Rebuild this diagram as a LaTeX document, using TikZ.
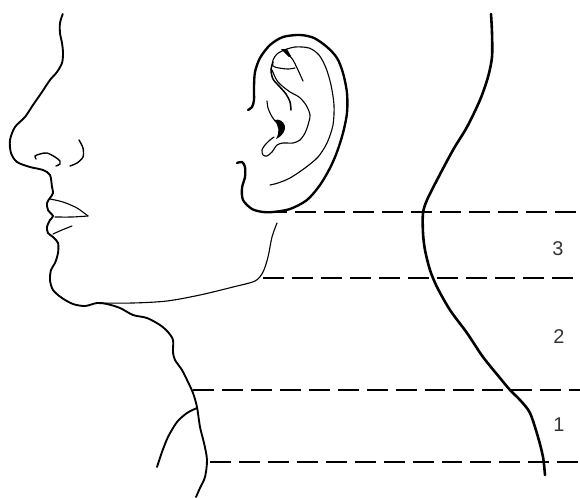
\documentclass[tikz,border=0pt]{standalone}
\usepackage{fontspec}
\setmainfont{Liberation Sans}
\begin{document}
\begin{tikzpicture}[x=0.03cm,y=-0.03cm,
  outline/.style={line width=1.6pt, line cap=round, line join=round},
  helix/.style={line width=2pt, line cap=round, line join=round},
  fine/.style={line width=0.95pt, line cap=round, line join=round},
  spine/.style={line width=2.2pt, line cap=round},
  level/.style={line width=2.2pt, dash pattern=on 17.9pt off 6.8pt},
  zone/.style={font=\fontsize{17}{20}\selectfont, text=black!80}]
\useasboundingbox (0,0) rectangle (580,497);

% profile: forehead, nose, lips, chin and front of the neck
\draw[outline] plot[smooth] coordinates {(62.7,14) (60,23) (60,33) (62,43) (63,53) (62,63) (57,72) (50,80) (42,92) (33,105) (25,117) (15,127) (10,140) (11,153) (17,162) (30,167) (43,170) (50,175) (52,187) (53,193) (50,198) (47,203) (48,210) (53,216) (50,220) (47,227) (48,233) (53,237) (58,243) (58,253) (55,263) (51,270) (50,280) (53,290) (62,298) (73,304) (85,306) (97,303) (107,304) (120,308) (133,315) (147,318) (160,325) (168,332) (173,340) (173,352) (175,360) (182,370) (188,382) (193,393) (197,407) (200,427) (204,443) (207,460) (205,477) (200,488) (196,497)};

% lower border of the jaw up to the ear lobe
\draw[fine] plot[smooth] coordinates {(97,303) (133,303) (167,301) (200,295) (233,287) (255,281) (263,272) (268,257) (272,237) (277,223)};

% shoulder line
\draw[outline] plot[smooth] coordinates {(197,408) (187,413) (177,422) (168,437) (162,452) (157,467)};

% nostril and wing of the nose
\draw[fine, line width=1.2pt] plot[smooth] coordinates {(36,159) (35,156) (40,154) (47,153) (55,157) (60,161) (60,164) (56,166)};
\draw[fine, line width=1.2pt] plot[smooth] coordinates {(79,140) (83,148) (83,157) (77,163) (70,166)};

% lips
\draw[fine] plot[smooth] coordinates {(50,199) (63,202) (77,208) (88,216)};
\draw[fine] plot[smooth] coordinates {(88,216) (72,217) (55,217)};
\draw[fine] plot[smooth] coordinates {(53,234) (62,230) (72,226)};

% ear: outer rim of the helix and the lobe
\draw[helix] plot[smooth] coordinates {(248,110) (252,107) (254,100) (254,87) (255,72) (260,58) (270,45) (283,37) (300,35) (314,38) (327,47) (337,58) (343,73) (347,93) (347,113) (343,133) (337,152) (330,168) (320,185) (307,200) (290,209) (273,212) (263,212) (252,209) (243,200) (242,188) (245,177) (245,167) (242,162) (237,163)};

% ear: inner edge of the helix
\draw[fine] plot[smooth] coordinates {(284,50) (295,47) (309,48) (319,55) (326,68) (331,85) (334,105) (333,125) (327,143) (318,157) (305,168) (290,178) (278,183) (270,185)};

% ear: triangular fossa and crura
\draw[fine] plot[smooth] coordinates {(284,50) (277,54) (273,60) (273,66) (279,68) (288,69) (295,68)};
\fill (281,49) -- (287,49) -- (291,56) -- (289,57) -- cycle;
\draw[fine] plot[smooth] coordinates {(288,54) (293,60) (298,70) (303,81)};
\draw[fine, line width=1.3pt] plot[smooth] coordinates {(273,62) (271,70) (273,79) (279,86) (286,94) (290,102) (291,110)};

% ear: antihelix running down into the antitragus
\draw[fine] plot[smooth] coordinates {(272,70) (278,82) (290,92) (299,97) (306,105) (310,115) (308,125) (305,133) (300,140) (293,143) (283,143) (277,145) (272,152) (267,156) (263,155) (262,150) (265,145) (270,140) (274,137)};

% ear: tragus edge and the dark opening of the canal
\draw[fine] plot[smooth] coordinates {(267,101) (268,108) (271,115) (275,121)};
\fill (274,120) .. controls (285,117) and (291,132) .. (276,139) .. controls (280,132) and (279,126) .. (274,120) -- cycle;

% contour of the back of the neck
\draw[spine] plot[smooth] coordinates {(491,14) (492,33) (492,57) (488,77) (480,100) (467,127) (453,150) (437,180) (427,200) (423,213) (423,233) (425,250) (430,270) (437,287) (450,310) (467,333) (483,357) (500,378) (510,390) (520,400) (530,413) (538,437) (543,457) (545,475)};

% level lines
\coordinate (l1) at (266,212);
\coordinate (l2) at (263,278);
\coordinate (l3) at (193,390);
\coordinate (l4) at (210,462);
\draw[level] (l1) -- (580,212);
\draw[level] (l2) -- (580,278);
\draw[level] (l3) -- (580,390);
\draw[level] (l4) -- (580,462);

% zone numbers
\node[zone] (z3) at (558,249) {3};
\node[zone] (z2) at (559,337) {2};
\node[zone] (z1) at (559,425) {1};
\end{tikzpicture}
\end{document}
